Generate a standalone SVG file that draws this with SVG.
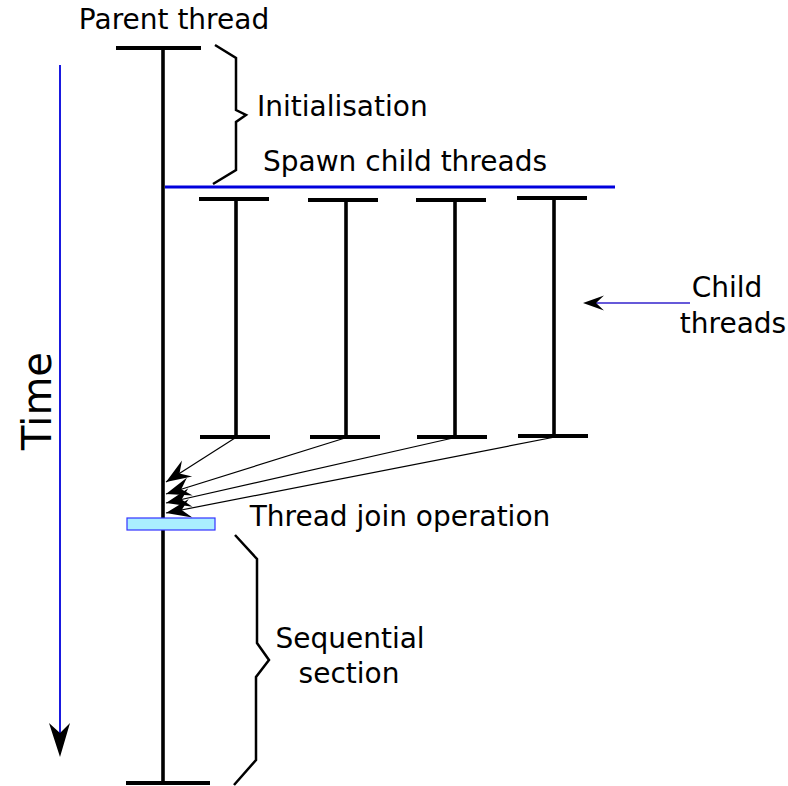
<svg xmlns="http://www.w3.org/2000/svg" width="788" height="786" viewBox="0 0 788 786">
<style>
.thr{stroke:#000;stroke-width:3.6;fill:none}
.bar{stroke:#000;stroke-width:4;fill:none}
.brace{stroke:#000;stroke-width:2.5;fill:none;stroke-linejoin:miter}
.join{stroke:#000;stroke-width:1.2;fill:none;marker-end:url(#ah)}
.lbl{font-family:"DejaVu Sans",sans-serif;font-size:28px;fill:#000}
</style>
<defs>
<marker id="ah" markerUnits="userSpaceOnUse" markerWidth="30" markerHeight="24" viewBox="-28 -12 30 24" refX="0" refY="0" orient="auto">
<path d="M0,0 L-25,-9.5 L-16,0 L-25,9.5 Z" fill="#000"/>
</marker>
</defs>

<g id="time">
<line x1="60" y1="65" x2="60" y2="733" stroke="#0000dd" stroke-width="1.8"/>
<path d="M60,757 L49,723 L60,733 L70,723 Z" fill="#000"/>
<text class="lbl" style="font-size:40px" transform="translate(51,401) rotate(-90)" text-anchor="middle">Time</text>
</g>

<g id="parent">
<line class="bar" x1="116" y1="48" x2="201" y2="48"/>
<line class="thr" x1="163" y1="48" x2="163" y2="783"/>
<line class="bar" x1="126" y1="783" x2="210" y2="783"/>
<text class="lbl" x="174" y="29" text-anchor="middle">Parent thread</text>
</g>

<g id="initialisation">
<path class="brace" d="M215,45 L236,58 L236,110 L246,115 L236,122 L236,170 L213,184"/>
<text class="lbl" x="257" y="116">Initialisation</text>
</g>

<g id="spawn">
<line x1="165" y1="187" x2="615" y2="187" stroke="#0000dd" stroke-width="3"/>
<text class="lbl" x="405" y="171" text-anchor="middle">Spawn child threads</text>
</g>

<g id="child1">
<line class="bar" x1="199" y1="199" x2="269" y2="199"/>
<line class="thr" x1="236" y1="199" x2="236" y2="437"/>
<line class="bar" x1="200" y1="437" x2="270" y2="437"/>
</g>
<g id="child2">
<line class="bar" x1="308" y1="200" x2="378" y2="200"/>
<line class="thr" x1="346" y1="200" x2="346" y2="437"/>
<line class="bar" x1="310" y1="437" x2="380" y2="437"/>
</g>
<g id="child3">
<line class="bar" x1="416" y1="200" x2="486" y2="200"/>
<line class="thr" x1="455" y1="200" x2="455" y2="437"/>
<line class="bar" x1="417" y1="437" x2="487" y2="437"/>
</g>
<g id="child4">
<line class="bar" x1="517" y1="198" x2="587" y2="198"/>
<line class="thr" x1="554" y1="198" x2="554" y2="436"/>
<line class="bar" x1="518" y1="436" x2="588" y2="436"/>
</g>

<g id="childlabel">
<line x1="690" y1="303" x2="596" y2="303" stroke="#3322cc" stroke-width="1.5"/>
<path d="M583,303 L604,295.5 L596,303 L604,310.5 Z" fill="#000"/>
<text class="lbl" x="727" y="297" text-anchor="middle">Child</text>
<text class="lbl" x="733" y="333" text-anchor="middle">threads</text>
</g>

<g id="connectors">
<line class="join" x1="235" y1="438" x2="166" y2="482"/>
<line class="join" x1="345" y1="438" x2="166" y2="494"/>
<line class="join" x1="453" y1="438" x2="166" y2="503"/>
<line class="join" x1="555" y1="437" x2="166" y2="513"/>
</g>

<g id="joinop">
<rect x="127" y="518" width="88" height="12" fill="#aaeeff" stroke="#3333ff" stroke-width="1.2"/>
<text class="lbl" x="400" y="526" text-anchor="middle">Thread join operation</text>
</g>

<g id="sequential">
<path class="brace" d="M235,535 L257,559 L257,643 L269,660 L256,677 L256,760 L234,785"/>
<text class="lbl" x="350" y="648" text-anchor="middle">Sequential</text>
<text class="lbl" x="349" y="683" text-anchor="middle">section</text>
</g>
</svg>
